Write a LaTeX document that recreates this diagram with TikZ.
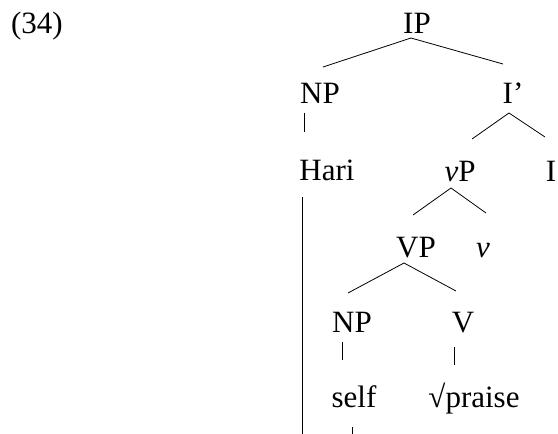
\documentclass[tikz,border=0pt]{standalone}
\usepackage{fontspec}
\setmainfont{Liberation Serif}
\begin{document}
\begin{tikzpicture}[x=1pt,y=-1pt,
  lbl/.style={anchor=base, inner sep=0pt, font=\fontsize{31}{36}\selectfont},
  edge/.style={line width=0.8pt}]
\useasboundingbox (0,0) rectangle (558,434);
% labels
\node[lbl] (ex) at (37,33) {(34)};
\node[lbl] (ip) at (417,33) {IP};
\node[lbl] (np1) at (320,103) {NP};
\node[lbl] (ibar) at (513,103) {I’};
\node[lbl] (hari) at (327,180) {Hari};
\node[lbl] (vp1) at (460,181) {\textit{v}P};
\node[lbl] (i) at (551,181) {I};
\node[lbl] (vp2) at (416,257) {VP};
\node[lbl] (v) at (483,257) {\textit{v}};
\node[lbl] (np2) at (352,332) {NP};
\node[lbl] (vv) at (463,332) {V};
\node[lbl] (self) at (354,407) {self};
\node[lbl] (praise) at (474,407) {√praise};
% connector end points
\coordinate (ip-s) at (411,38);
\coordinate (np1-n) at (323,67);
\coordinate (ibar-n) at (503,64);
\coordinate (np1-s) at (304,113);
\coordinate (hari-n) at (304,132);
\coordinate (ibar-s) at (509,113);
\coordinate (vp1-n) at (472,139);
\coordinate (i-n) at (545,137);
\coordinate (hari-s) at (302,197);
\coordinate (hari-end) at (302,434);
\coordinate (vp1-s) at (451,188);
\coordinate (vp2-n) at (413,215);
\coordinate (v-n) at (486,213);
\coordinate (vp2-s) at (404,263);
\coordinate (np2-n) at (348,293);
\coordinate (vv-n) at (456,291);
\coordinate (np2-s) at (342,342);
\coordinate (self-n) at (342,360);
\coordinate (vv-s) at (454,347);
\coordinate (praise-n) at (454,365);
\coordinate (self-s) at (352,427);
\coordinate (self-end) at (352,434);
% connectors
\draw[edge] (ip-s) -- (np1-n);
\draw[edge] (ip-s) -- (ibar-n);
\draw[edge] (np1-s) -- (hari-n);
\draw[edge] (ibar-s) -- (vp1-n);
\draw[edge] (ibar-s) -- (i-n);
\draw[edge] (hari-s) -- (hari-end);
\draw[edge] (vp1-s) -- (vp2-n);
\draw[edge] (vp1-s) -- (v-n);
\draw[edge] (vp2-s) -- (np2-n);
\draw[edge] (vp2-s) -- (vv-n);
\draw[edge] (np2-s) -- (self-n);
\draw[edge] (vv-s) -- (praise-n);
\draw[edge] (self-s) -- (self-end);
\end{tikzpicture}
\end{document}
